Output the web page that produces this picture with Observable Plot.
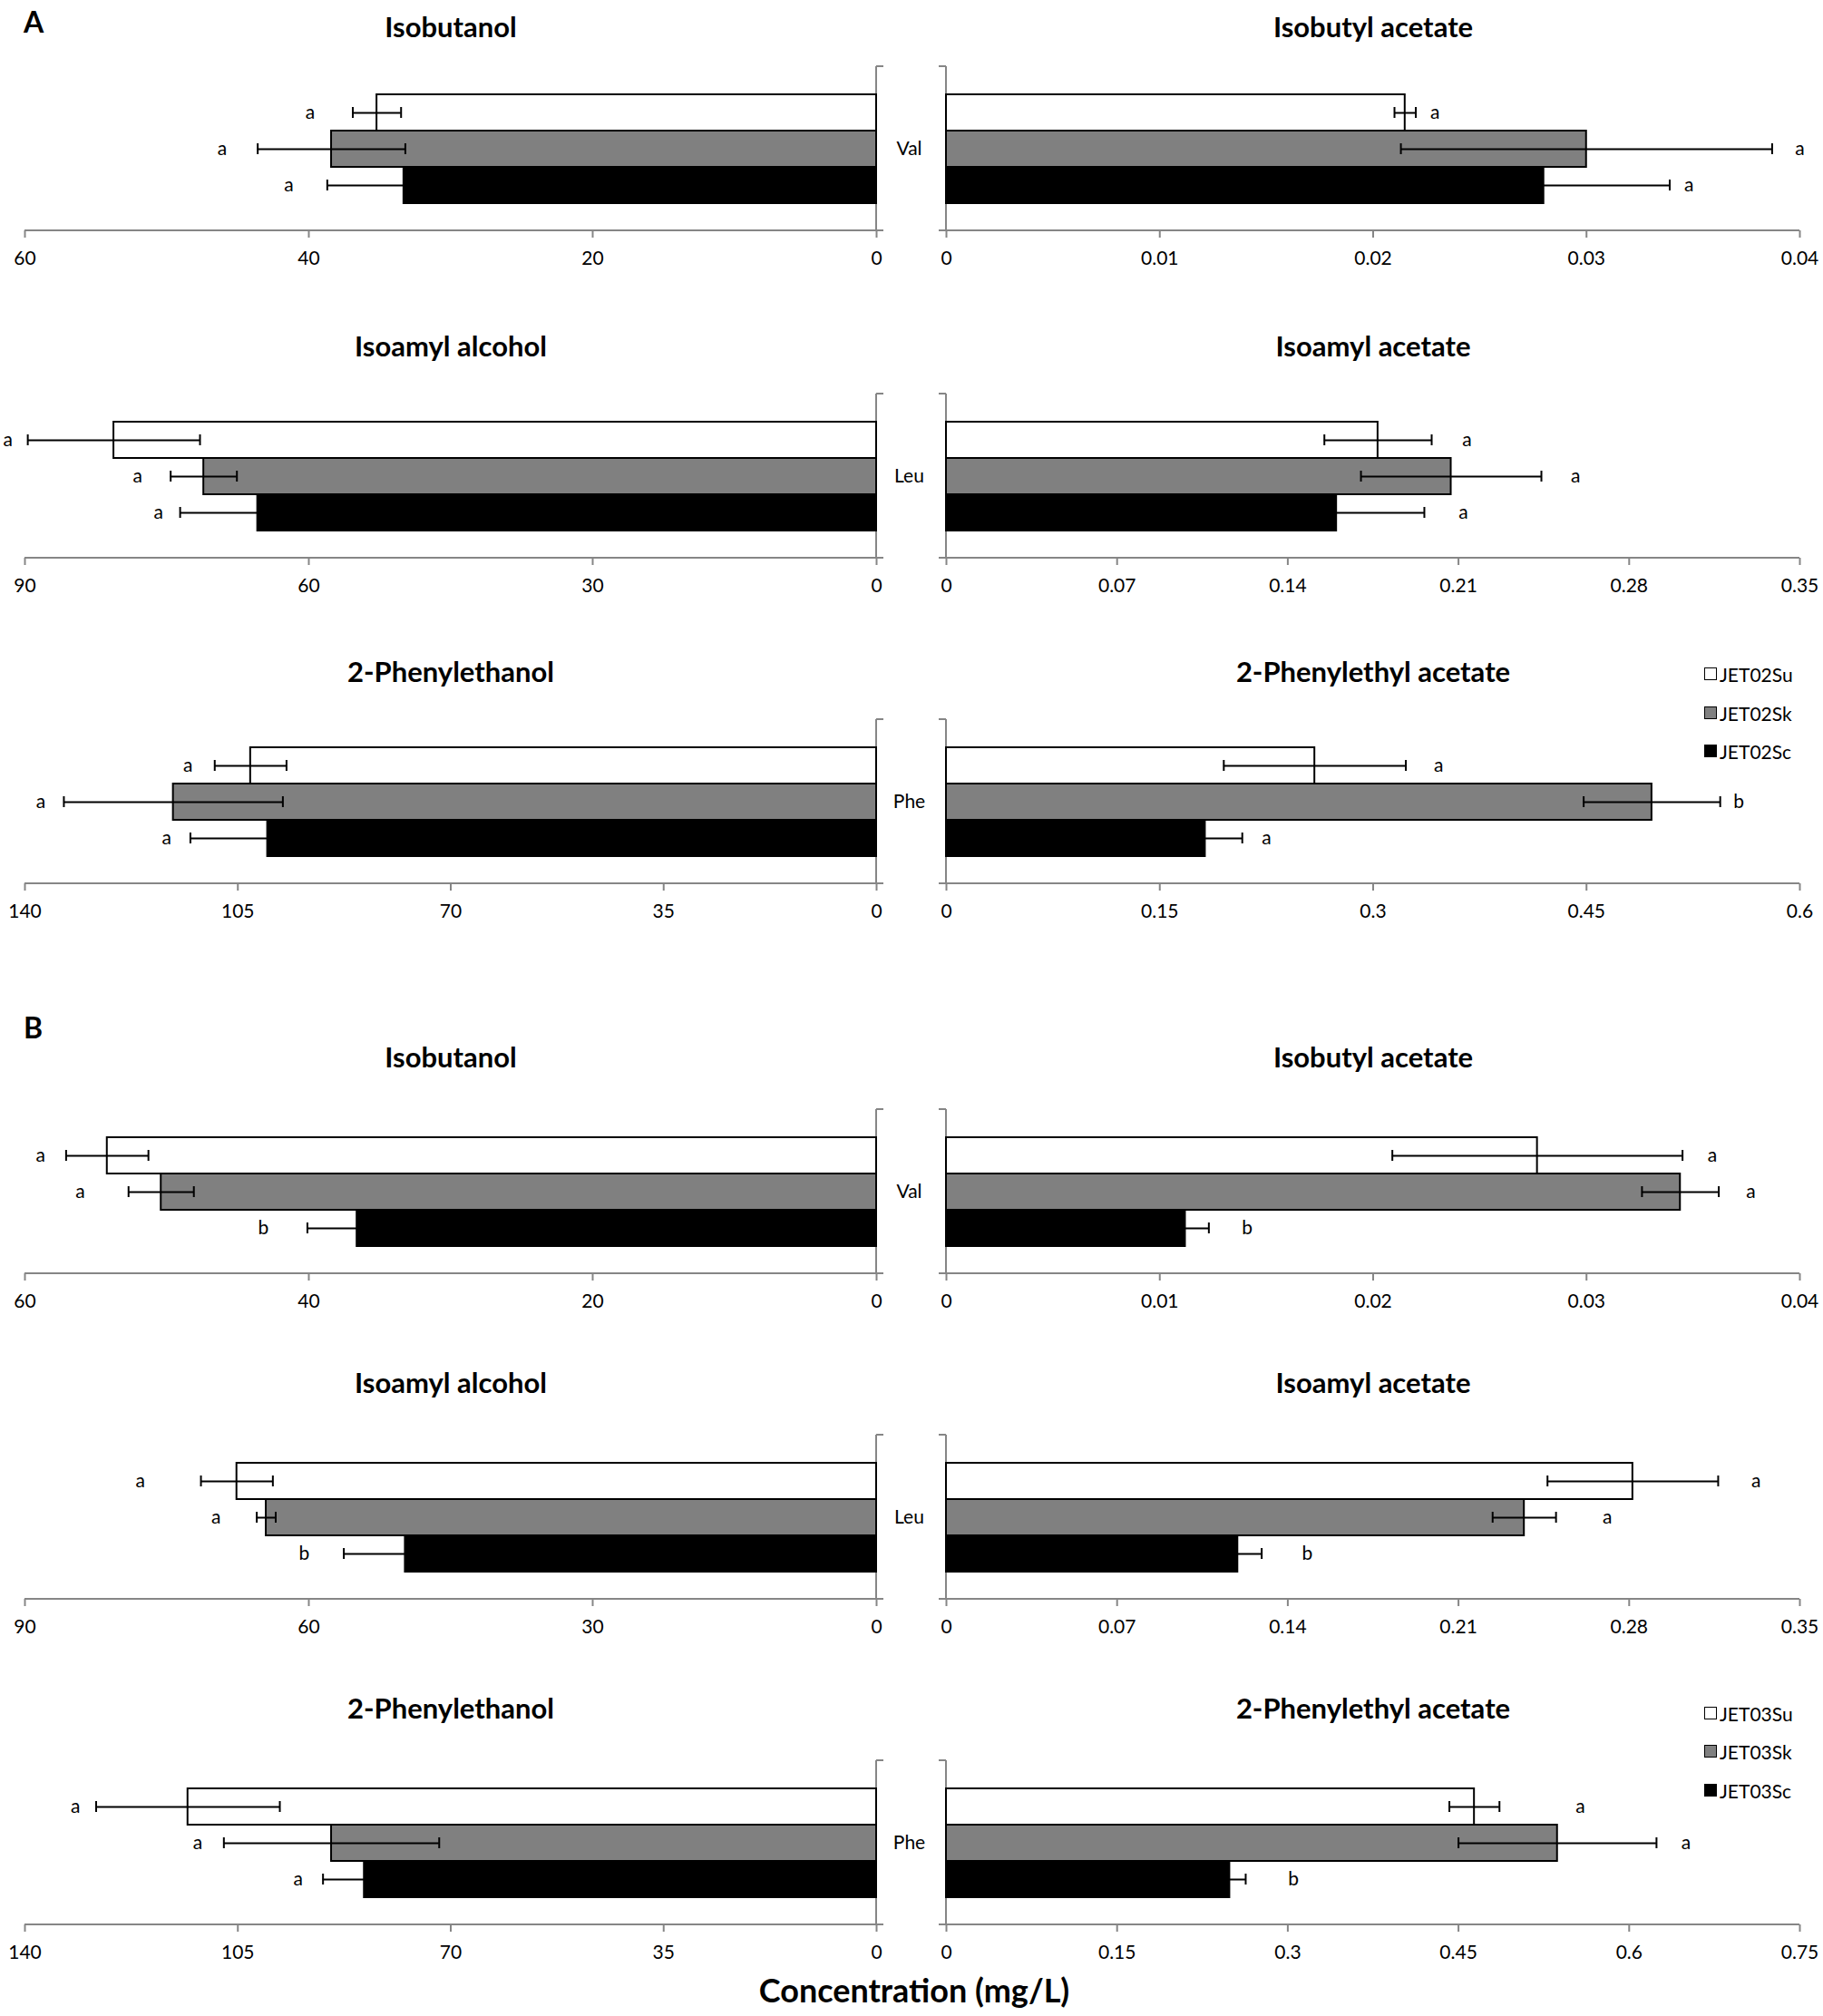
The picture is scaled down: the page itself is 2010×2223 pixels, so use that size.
<!DOCTYPE html>
<html><head><meta charset="utf-8">
<script src="https://cdn.jsdelivr.net/npm/d3@7"></script>
<script src="https://cdn.jsdelivr.net/npm/@observablehq/plot@0.6"></script>
<style>
body{margin:0;background:#fff;}
#page{position:relative;width:2010px;height:2223px;font-family:Lato,sans-serif;overflow:hidden;}
.lbl{position:absolute;font-weight:bold;color:#000;white-space:nowrap;}
.leg{position:absolute;font-size:21px;display:flex;align-items:center;white-space:nowrap;}
.sw{width:14px;height:14px;border:1.5px solid #000;margin-right:3px;box-sizing:border-box;}
</style></head><body><div id="page"></div>
<script>
// ---------------- data ----------------
const strains = ["Su", "Sk", "Sc"];
const compounds = ["Isobutanol", "Isobutyl acetate", "Isoamyl alcohol", "Isoamyl acetate", "2-Phenylethanol", "2-Phenylethyl acetate"];
const precursors = ["Val", "Leu", "Phe"];
const legendA = ["JET02Su", "JET02Sk", "JET02Sc"];
const legendB = ["JET03Su", "JET03Sk", "JET03Sc"];

const axisMaxA = [60, 0.04, 90, 0.35, 140, 0.6];
const axisMaxB = [60, 0.04, 90, 0.35, 140, 0.75];
const ticks60 = [0, 20, 40, 60];
const ticks004 = [0, 0.01, 0.02, 0.03, 0.04];
const ticks90 = [0, 30, 60, 90];
const ticks035 = [0, 0.07, 0.14, 0.21, 0.28, 0.35];
const ticks140 = [0, 35, 70, 105, 140];
const ticks06 = [0, 0.15, 0.3, 0.45, 0.6];
const ticks075 = [0, 0.15, 0.3, 0.45, 0.6, 0.75];
const ticksA = [ticks60, ticks004, ticks90, ticks035, ticks140, ticks06];
const ticksB = [ticks60, ticks004, ticks90, ticks035, ticks140, ticks075];

// mean concentrations (mg/L) per compound: [Su, Sk, Sc]
const meanA = [
  [35.2, 38.4, 33.3],
  [0.0215, 0.0300, 0.0280],
  [80.6, 71.1, 65.4],
  [0.177, 0.207, 0.160],
  [102.9, 115.6, 100.1],
  [0.259, 0.496, 0.182]
];
const errA = [
  [1.7, 5.2, 5.4],
  [0.0005, 0.0087, 0.0059],
  [9.1, 3.5, 8.2],
  [0.022, 0.037, 0.036],
  [5.9, 18.0, 12.7],
  [0.064, 0.048, 0.026]
];
const letterA = [["a","a","a"],["a","a","a"],["a","a","a"],["a","a","a"],["a","a","a"],["a","b","a"]];
const letterAtA = [
  [39.9, 46.1, 41.4],
  [0.0229, 0.0400, 0.0348],
  [91.8, 78.1, 75.9],
  [0.2135, 0.258, 0.212],
  [113.2, 137.4, 116.7],
  [0.346, 0.557, 0.225]
];
const meanB = [
  [54.2, 50.4, 36.6],
  [0.0277, 0.0344, 0.0112],
  [67.6, 64.5, 49.8],
  [0.2815, 0.237, 0.1195],
  [113.2, 89.6, 84.2],
  [0.464, 0.537, 0.249]
];
const errB = [
  [2.9, 2.3, 3.5],
  [0.0068, 0.0018, 0.0011],
  [3.8, 1.0, 6.5],
  [0.035, 0.013, 0.0098],
  [15.1, 17.7, 6.8],
  [0.022, 0.087, 0.014]
];
const letterB = [["a","a","b"],["a","a","b"],["a","a","b"],["a","a","b"],["a","a","a"],["a","a","b"]];
const letterAtB = [
  [58.9, 56.1, 43.2],
  [0.0359, 0.0377, 0.0141],
  [77.8, 69.8, 60.5],
  [0.332, 0.271, 0.148],
  [131.7, 111.6, 95.1],
  [0.557, 0.650, 0.305]
];

// ---------------- styles / layout ----------------
const FILLS = ["#ffffff", "#808080", "#000000"];
const AXIS = "#868686";
const page = document.getElementById("page");

function axisLines(side) {
  return (index, scales, values, dims) => {
    const {width, height, marginLeft, marginRight, marginTop, marginBottom} = dims;
    const x0 = scales.x(0);
    const top = marginTop, bottom = height - marginBottom;
    const out = side === "left" ? 8 : -8;
    const g = d3.create("svg:g").attr("stroke", AXIS).attr("stroke-width", 2).attr("fill", "none");
    g.append("path").attr("d", `M${x0},${top}V${bottom}M${x0},${top}h${out}`);
    const d = side === "left"
      ? `M${marginLeft},${bottom}H${x0 + 8}`
      : `M${x0 - 8},${bottom}H${width - marginRight}`;
    g.append("path").attr("d", d);
    return g.node();
  };
}

function panel(opts) {
  const {max, ticks, means, errs, letters, letterAt, title, side, cat, frameTop, titleDy} = opts;
  const rows = strains.map((s, i) => ({strain: s, v: means[i], e: errs[i], lab: letters[i], lp: letterAt[i]}));
  const left = side === "left";
  const marks = [
    axisLines(side),
    Plot.barX(rows, {x: "v", y: "strain", fill: "strain", stroke: "#000", strokeWidth: 2}),
    Plot.ruleY(rows, {y: "strain", x1: d => d.v - d.e, x2: d => d.v + d.e, stroke: "#000", strokeWidth: 2}),
    Plot.tickX(rows, {x: d => d.v - d.e, y: "strain", insetTop: 14, insetBottom: 14, stroke: "#000", strokeWidth: 2}),
    Plot.tickX(rows, {x: d => d.v + d.e, y: "strain", insetTop: 14, insetBottom: 14, stroke: "#000", strokeWidth: 2}),
    Plot.text(rows, {x: "lp", y: "strain", text: "lab", textAnchor: "middle", fill: "#000"}),
    Plot.axisX({ticks, tickSize: 8, tickPadding: 15, stroke: AXIS, strokeWidth: 2, fill: "#000",
      tickFormat: d => String(d), label: null, anchor: "bottom"}),
    Plot.text([title], {frameAnchor: "top", dy: titleDy, fontSize: 31, fontWeight: "bold", fill: "#000"})
  ];
  if (!left) marks.push(Plot.text([cat], {frameAnchor: "left", dx: -41, textAnchor: "middle", fill: "#000"}));
  const svg = Plot.plot({
    width: left ? 985 : 1025,
    height: 73 + 181 + 50,
    marginTop: 73,
    marginBottom: 50,
    marginLeft: left ? 27 : 58,
    marginRight: left ? 19 : 26,
    x: {domain: left ? [max, 0] : [0, max], axis: null},
    y: {domain: strains, padding: 0, insetTop: 30, insetBottom: 30, axis: null},
    color: {domain: strains, range: FILLS},
    style: {fontFamily: "Lato, sans-serif", fontSize: "21px", background: "transparent", overflow: "visible", color: "#000"},
    marks
  });
  svg.style.position = "absolute";
  svg.style.left = (left ? 0 : 985) + "px";
  svg.style.top = (frameTop - 73) + "px";
  page.appendChild(svg);
}

const frameTopsA = [73, 434, 793];
const frameTopsB = [1223, 1582, 1941];
const titleDyA = [-55, -64, -64];
const titleDyB = [-69, -69, -69];

function figure(means, errs, letters, letterAt, maxes, tickSets, tops, dys) {
  for (let p = 0; p < 6; p++) {
    const row = Math.floor(p / 2);
    panel({
      max: maxes[p], ticks: tickSets[p], means: means[p], errs: errs[p],
      letters: letters[p], letterAt: letterAt[p], title: compounds[p],
      side: p % 2 === 0 ? "left" : "right", cat: precursors[row], frameTop: tops[row], titleDy: dys[row]
    });
  }
}
figure(meanA, errA, letterA, letterAtA, axisMaxA, ticksA, frameTopsA, titleDyA);
figure(meanB, errB, letterB, letterAtB, axisMaxB, ticksB, frameTopsB, titleDyB);

function label(text, x, y, size, anchor) {
  const d = document.createElement("div");
  d.className = "lbl";
  d.textContent = text;
  d.style.fontSize = size + "px";
  d.style.left = x + "px";
  d.style.top = y + "px";
  d.style.lineHeight = "1.2";
  d.style.transform = anchor === "middle" ? "translate(-50%,-50%)" : "translate(0,-50%)";
  page.appendChild(d);
}
label("A", 26, 24, 32);
label("B", 26, 1133, 32);
label("Concentration (mg/L)", 1008, 2195, 36, "middle");

function legend(names, ys) {
  names.forEach((n, i) => {
    const row = document.createElement("div");
    row.className = "leg";
    row.style.left = "1879px";
    row.style.top = (ys[i] - 13) + "px";
    row.style.height = "26px";
    const sw = document.createElement("div");
    sw.className = "sw";
    sw.style.background = FILLS[i];
    row.appendChild(sw);
    row.appendChild(document.createTextNode(n));
    page.appendChild(row);
  });
}
legend(legendA, [743, 786, 828]);
legend(legendB, [1889, 1931, 1974]);
</script></body></html>
